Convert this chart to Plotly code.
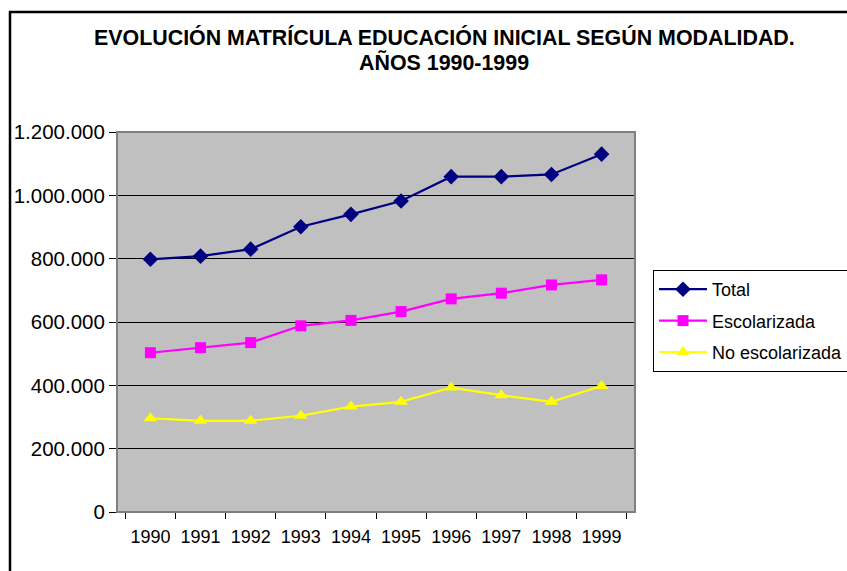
import plotly.graph_objects as go

years = ["1990", "1991", "1992", "1993", "1994", "1995", "1996", "1997", "1998", "1999"]
total = [798000, 808000, 830000, 901000, 940000, 982000, 1059000, 1059000, 1066000, 1130000]
escolarizada = [503000, 519000, 535000, 588000, 605000, 633000, 673000, 691000, 717000, 733000]
no_escolarizada = [296000, 288000, 288000, 304000, 333000, 348000, 393000, 369000, 348000, 398000]
y_ticks = [0, 200000, 400000, 600000, 800000, 1000000, 1200000]

W, H = 847, 571
L, R, T, B = 117, 635, 132, 512

def px(x):
    return (x - L) / (R - L)

def py(y):
    return (B - y) / (B - T)

FONT = "Liberation Sans, Arial, sans-serif"

fig = go.Figure()
fig.add_trace(go.Scatter(x=years, y=total, name="Total", mode="lines+markers",
                         line=dict(color="#000080", width=2.2),
                         marker=dict(symbol="diamond", size=12, color="#000080"),
                         legendgroup="a"))
fig.add_trace(go.Scatter(x=years, y=escolarizada, name="Escolarizada", mode="lines+markers",
                         line=dict(color="#FF00FF", width=2.2),
                         marker=dict(symbol="square", size=11, color="#FF00FF"),
                         legendgroup="b"))
fig.add_trace(go.Scatter(x=years, y=no_escolarizada, name="No escolarizada", mode="lines+markers",
                         line=dict(color="#FFFF00", width=2.2),
                         marker=dict(symbol="triangle-up", size=12, color="#FFFF00"),
                         legendgroup="c"))

fig.update_layout(
    width=W, height=H,
    margin=dict(l=L, r=W - R, t=T, b=H - B, autoexpand=False),
    paper_bgcolor="white",
    plot_bgcolor="#C0C0C0",
    separators=",.",
    font=dict(family=FONT, size=18, color="black"),
    showlegend=True,
    legend=dict(x=px(653), y=py(270), xanchor="left", yanchor="top",
                bordercolor="black", borderwidth=1, bgcolor="white",
                font=dict(family=FONT, size=18, color="black"),
                itemwidth=48,
                tracegroupgap=5, traceorder="grouped"),
    xaxis=dict(type="category", tickson="boundaries", ticks="outside", ticklen=6,
               tickcolor="black", showgrid=False, showline=True, linecolor="black",
               linewidth=1, tickfont=dict(size=18), ticklabelstandoff=8, fixedrange=True),
    yaxis=dict(range=[0, 1200000], tickvals=y_ticks, tickformat=",d", ticks="outside",
               ticklen=7, tickcolor="black", showgrid=True, gridcolor="black", gridwidth=1,
               showline=True, linecolor="black", linewidth=1, zeroline=False,
               tickfont=dict(size=20.5), fixedrange=True),
    annotations=[
        dict(text="<b>EVOLUCIÓN MATRÍCULA EDUCACIÓN INICIAL SEGÚN MODALIDAD.</b>",
             xref="paper", yref="paper", x=px(444), y=py(38), xanchor="center", yanchor="middle",
             showarrow=False, font=dict(family=FONT, size=21.4, color="black")),
        dict(text="<b>AÑOS 1990-1999</b>",
             xref="paper", yref="paper", x=px(444), y=py(62), xanchor="center", yanchor="middle",
             showarrow=False, font=dict(family=FONT, size=21.4, color="black")),
    ],
    shapes=[
        dict(type="rect", xref="paper", yref="paper", x0=0, x1=1, y0=0, y1=1,
             line=dict(color="#808080", width=2), layer="above"),
        dict(type="rect", xref="paper", yref="paper", x0=px(10), x1=px(852), y0=py(576), y1=py(12),
             line=dict(color="black", width=2.5), layer="above"),
    ],
)

fig.write_html(
    "out.html",
    config={"displayModeBar": False},
    post_script="document.body.style.margin='0';document.body.style.overflow='hidden';"
                "document.documentElement.style.overflow='hidden';",
)
